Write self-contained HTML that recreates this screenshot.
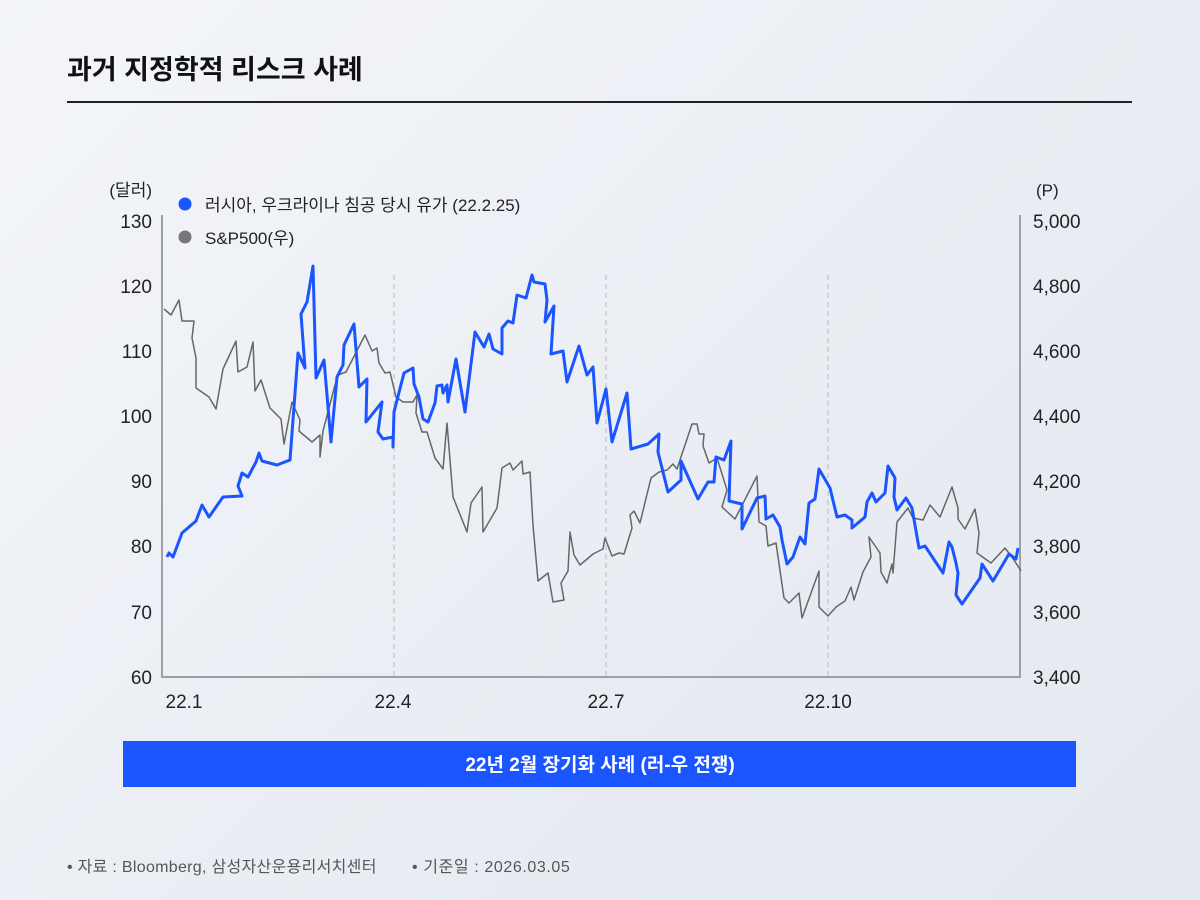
<!DOCTYPE html>
<html><head><meta charset="utf-8"><style>
body{margin:0;width:1200px;height:900px;overflow:hidden;background:linear-gradient(135deg,#f3f5f9 0%,#e9edf3 60%,#e4e9f0 100%);font-family:"Liberation Sans","Noto Sans CJK KR",sans-serif;}
</style></head><body>
<svg width="1200" height="900" xmlns="http://www.w3.org/2000/svg" style="position:absolute;left:0;top:0;font-family:'Liberation Sans','Noto Sans CJK KR',sans-serif">
<text x="67" y="79" font-size="27" font-weight="bold" fill="#111">과거 지정학적 리스크 사례</text>
<line x1="67" y1="102" x2="1132" y2="102" stroke="#222" stroke-width="2"/>
<g stroke="#c9ccd2" stroke-width="1.5" stroke-dasharray="5,4">
<line x1="394" y1="275" x2="394" y2="677"/><line x1="606" y1="275" x2="606" y2="677"/><line x1="828" y1="275" x2="828" y2="677"/></g>
<g stroke="#9aa0a8" stroke-width="2" fill="none"><line x1="162" y1="215" x2="162" y2="678"/><line x1="1020" y1="215" x2="1020" y2="678"/><line x1="161" y1="677" x2="1021" y2="677"/></g>
<g font-size="19" fill="#222" text-anchor="end">
<text x="152" y="196" font-size="17">(달러)</text>
<text x="152" y="228">130</text><text x="152" y="293">120</text><text x="152" y="358">110</text><text x="152" y="423">100</text><text x="152" y="488">90</text><text x="152" y="553">80</text><text x="152" y="619">70</text><text x="152" y="684">60</text></g>
<g font-size="19" fill="#222" text-anchor="start">
<text x="1036" y="196" font-size="17">(P)</text>
<text x="1033" y="228">5,000</text><text x="1033" y="293">4,800</text><text x="1033" y="358">4,600</text><text x="1033" y="423">4,400</text><text x="1033" y="488">4,200</text><text x="1033" y="553">3,800</text><text x="1033" y="619">3,600</text><text x="1033" y="684">3,400</text></g>
<g font-size="19" fill="#222" text-anchor="middle"><text x="184" y="708">22.1</text><text x="393" y="708">22.4</text><text x="606" y="708">22.7</text><text x="828" y="708">22.10</text></g>
<circle cx="185" cy="204" r="6.5" fill="#1a55ff"/><text x="205" y="211" font-size="17" fill="#222">러시아, 우크라이나 침공 당시 유가 (22.2.25)</text>
<circle cx="185" cy="237" r="6.5" fill="#777"/><text x="205" y="244" font-size="17" fill="#222">S&amp;P500(우)</text>
<polyline fill="none" stroke="#666" stroke-width="1.5" stroke-linejoin="round" points="164,309 171,315 179,300 182,321 194,321 192,338 196,358 196,388 209,397 216,409 223,369 236,341 238,372 247,367 253,342 255,391 261,380 270,408 281,419 284,444 292,402 300,420 299,431 312,442 320,435 320,457 323,431 335,385 338,375 346,372 365,335 372,351 377,348 379,363 385,373 390,372 396,397 403,402 413,402 417,395 416,413 422,432 427,432 435,458 443,469 447,423 453,497 467,532 471,503 482,487 483,532 497,508 502,468 510,463 513,470 522,461 523,474 530,472 533,525 538,581 548,573 553,602 564,600 561,583 568,571 570,532 574,555 580,565 593,554 603,549 605,538 612,556 619,553 624,554 632,528 630,515 634,511 640,523 651,478 659,472 667,470 673,464 677,469 692,424 697,424 699,434 704,434 703,446 709,463 717,458 727,490 722,507 735,519 757,476 759,522 766,526 768,546 776,543 784,598 789,603 799,593 802,618 819,571 819,607 828,616 836,607 845,601 851,587 854,600 863,572 871,557 869,537 880,553 881,572 887,583 892,564 893,573 897,522 908,508 913,518 923,520 930,505 940,517 952,487 958,508 958,519 965,529 975,509 979,533 977,553 991,563 1005,548 1014,560 1021,571"/>
<polyline fill="none" stroke="#1a55ff" stroke-width="3" stroke-linejoin="round" points="167,557 169,553 173,557 182,533 196,521 202,505 209,517 223,497 242,496 238,486 242,473 248,477 256,462 259,453 262,461 277,465 290,460 298,353 305,368 301,314 307,302 313,266 316,378 324,360 331,442 337,377 343,365 344,345 354,324 359,387 367,379 366,422 382,402 378,432 383,439 393,437 393,447 394,412 404,373 413,368 414,384 419,397 423,419 428,422 435,403 437,386 442,385 443,393 447,385 448,402 456,359 465,412 475,332 484,347 489,334 493,349 502,354 502,328 508,321 513,323 517,295 526,298 532,275 534,282 545,284 547,300 545,322 554,306 551,354 563,351 567,382 579,346 587,375 593,367 597,423 606,389 612,442 627,393 631,449 648,444 659,434 658,452 668,492 681,480 681,461 698,499 708,482 714,482 716,457 724,460 731,441 729,501 742,504 742,529 757,498 765,496 766,519 773,515 780,527 782,540 787,564 793,557 800,537 805,544 809,503 815,499 819,469 830,488 837,517 845,515 852,520 852,528 865,517 867,502 872,493 876,502 885,493 888,466 895,478 894,497 897,510 906,498 912,508 919,548 925,546 943,573 949,542 952,547 956,563 958,573 956,595 962,604 980,578 982,564 993,581 1009,554 1016,559 1018,548"/>
<rect x="123" y="741" width="953" height="46" fill="#1a55ff"/>
<text x="600" y="771" font-size="19" font-weight="bold" fill="#fff" text-anchor="middle">22년 2월 장기화 사례 (러-우 전쟁)</text>
<text x="67" y="872" font-size="16" fill="#555" letter-spacing="0.3">• 자료 : Bloomberg, 삼성자산운용리서치센터</text>
<text x="412" y="872" font-size="16" fill="#555" letter-spacing="0.6">• 기준일 :  2026.03.05</text>
</svg>
</body></html>
